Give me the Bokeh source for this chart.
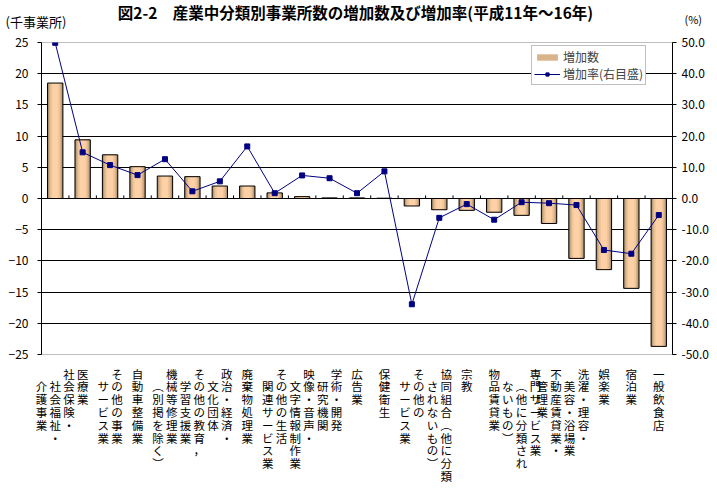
from bokeh.plotting import figure
from bokeh.models import (Range1d, LinearAxis, SingleIntervalTicker, FixedTicker,
                          NumeralTickFormatter, ColumnDataSource,
                          Legend, LegendItem)
from bokeh.embed import file_html
from bokeh.resources import INLINE
from bokeh.core.properties import value

# ---------------- data ----------------
title_text = "図2-2\u3000産業中分類別事業所数の増加数及び増加率(平成11年～16年)"
left_unit = "(千事業所)"
right_unit = "(%)"
series_names = ["増加数", "増加率(右目盛)"]

# category labels, as the vertical columns they are printed in (right to left)
label_columns = [
    ["社会保険・", "社会福祉・", "介護事業"],
    ["医療業"],
    ["その他の事業", "サービス業"],
    ["自動車整備業"],
    ["機械等修理業", "︵別掲を除く︶"],
    ["その他の教育，", "学習支援業"],
    ["政治・経済・", "文化団体"],
    ["廃棄物処理業"],
    ["その他の生活", "関連サービス業"],
    ["映像・音声・", "文字情報制作業"],
    ["学術・開発", "研究機関"],
    ["広告業"],
    ["保健衛生"],
    ["その他の", "サービス業"],
    ["協同組合︵他に分類", "されないもの︶"],
    ["宗教"],
    ["物品賃貸業"],
    ["専門サービス業", "︵他に分類され", "ないもの︶"],
    ["不動産賃貸業・", "管理業"],
    ["洗濯・理容・", "美容・浴場業"],
    ["娯楽業"],
    ["宿泊業"],
    ["一般飲食店"],
]
label_start_rows = [[0, 1, 1], [0], [0, 1], [0], [0, 1], [0, 1], [0, 1], [0], [0, 1],
                    [0, 1], [0, 1], [0], [0], [0, 1], [0, 1], [0], [0], [0, 1, 1],
                    [0, 1], [0, 1], [0], [0], [0]]
categories = ["".join(c) for c in label_columns]

# 増加数 (千事業所)
increase = [18.5, 9.4, 7.0, 5.1, 3.6, 3.5, 2.0, 2.0, 0.9, 0.3, 0.1, 0.1, 0.05,
            -1.2, -1.8, -1.9, -2.2, -2.7, -4.0, -9.6, -11.4, -14.4, -23.7]
# 増加率 (%)
rate = [49.9, 14.8, 10.7, 7.5, 12.6, 2.3, 5.5, 16.7, 1.7, 7.4, 6.5, 1.7, 8.7,
        -33.9, -6.2, -1.8, -6.8, -1.2, -1.5, -2.1, -16.5, -17.7, -5.3]

# ---------------- header (title and unit captions) ----------------
FONT = "Noto Sans CJK JP"
HEAD_H = 34
head = figure(width=717, height=HEAD_H, output_backend="svg", toolbar_location=None,
              x_range=Range1d(0, 717), y_range=Range1d(HEAD_H, 0),
              x_axis_type=None, y_axis_type=None, min_border=0,
              outline_line_color=None, background_fill_color="white",
              border_fill_color="white")
head.grid.visible = False
head.text(x=[355], y=[11], text=[title_text], text_align="center",
          text_baseline="middle", text_font=value(FONT), text_font_size="15.5px",
          text_font_style="bold", text_color="black")
head.text(x=[5], y=[21], text=[left_unit], text_align="left", text_baseline="middle",
          text_font=value(FONT), text_font_size="13px", text_color="black")
head.text(x=[684], y=[18], text=[right_unit], text_align="left",
          text_baseline="middle", text_font=value(FONT), text_font_size="11px",
          text_color="black")

# ---------------- chart ----------------
n = len(categories)
xpos = list(range(1, n + 1))

p = figure(width=717, height=488 - HEAD_H, output_backend="svg",
           toolbar_location=None,
           x_range=Range1d(0.5, n + 0.5), y_range=Range1d(-25, 25),
           min_border_left=41, min_border_right=45, min_border_top=8,
           min_border_bottom=134, background_fill_color="white",
           border_fill_color="white")
p.extra_y_ranges = {"pct": Range1d(-50, 50)}

p.xgrid.visible = False
p.ygrid.ticker = FixedTicker(ticks=list(range(-20, 25, 5)))
p.ygrid.grid_line_color = "black"
p.ygrid.grid_line_width = 1
p.outline_line_color = "#808080"
p.outline_line_dash = "1 1"

# category axis: labels printed as vertical columns (grid of characters)
def vertical_label(cols, starts):
    depth = max(s + len(c) for c, s in zip(cols, starts))
    rows = []
    for r in range(depth):
        cells = []
        for c, s in reversed(list(zip(cols, starts))):
            j = r - s
            cells.append(c[j] if 0 <= j < len(c) else "\u3000")
        rows.append("\u2009".join(cells))
    return "\n".join(rows)

xa = p.xaxis[0]
xa.ticker = FixedTicker(ticks=xpos)
xa.major_label_overrides = {x: vertical_label(c, s)
                            for x, c, s in zip(xpos, label_columns, label_start_rows)}
xa.axis_line_color = None
xa.major_tick_line_color = None
xa.minor_tick_line_color = None
xa.major_label_standoff = 5
xa.major_label_text_font = FONT
xa.major_label_text_font_size = "11.5px"
xa.major_label_text_line_height = 0.8
xa.major_label_text_color = "black"

yl = p.yaxis[0]
yl.ticker = SingleIntervalTicker(interval=5)
yl.minor_tick_line_color = None
yl.major_tick_out = 4
yl.major_tick_in = 0
yl.major_label_standoff = 9
yl.axis_line_color = "black"
yl.major_label_text_font = FONT
yl.major_label_text_font_size = "12px"
yl.major_label_text_color = "black"

yr = LinearAxis(y_range_name="pct", ticker=SingleIntervalTicker(interval=10),
                formatter=NumeralTickFormatter(format="0.0"))
yr.minor_tick_line_color = None
yr.major_tick_out = 4
yr.major_tick_in = 0
yr.major_label_standoff = 5
yr.axis_line_color = "black"
yr.major_label_text_font = FONT
yr.major_label_text_font_size = "12px"
yr.major_label_text_color = "black"
p.add_layout(yr, "right")

# bars, shaded like a cylinder
bw = 0.56
layers = [(bw, "#9C8463"), (0.50, "#BC9D77"), (0.43, "#D9B48B"),
          (0.34, "#F0C59A"), (0.22, "#FDD0A5")]
src = ColumnDataSource(dict(x=xpos, top=increase, rate=rate))
bar_rs = []
for w, c in layers:
    bar_rs.append(p.vbar(x="x", top="top", bottom=0, width=w, source=src,
                         fill_color=c, line_color=None))
p.vbar(x="x", top="top", bottom=0, width=bw, source=src, fill_color=None,
       line_color="black", line_width=1)

# category tick marks on the zero line
bounds = [i + 0.5 for i in range(1, n)]
p.segment(x0=bounds, y0=[0] * len(bounds), x1=bounds, y1=[0.5] * len(bounds),
          line_color="black", line_width=1)

# rate line
ln = p.line(x="x", y="rate", source=src, y_range_name="pct", line_color="#000080",
            line_width=1)
pts = p.scatter(x="x", y="rate", source=src, y_range_name="pct", marker="square",
                size=5, fill_color="#000080", line_color="#000080")

# legend
legend = Legend(items=[LegendItem(label=series_names[0], renderers=[bar_rs[2]]),
                       LegendItem(label=series_names[1], renderers=[ln, pts])],
                location=(490, 269), orientation="vertical",
                border_line_color="#808080", border_line_width=1,
                background_fill_color="white", background_fill_alpha=1,
                padding=2, spacing=-3, margin=0, glyph_width=26, glyph_height=8,
                label_standoff=3, label_height=11,
                label_text_font=FONT, label_text_font_size="12px")
p.add_layout(legend)

# two independent roots stacked on the page (header above the chart)
open("out.html", "w").write(file_html([head, p], INLINE))
